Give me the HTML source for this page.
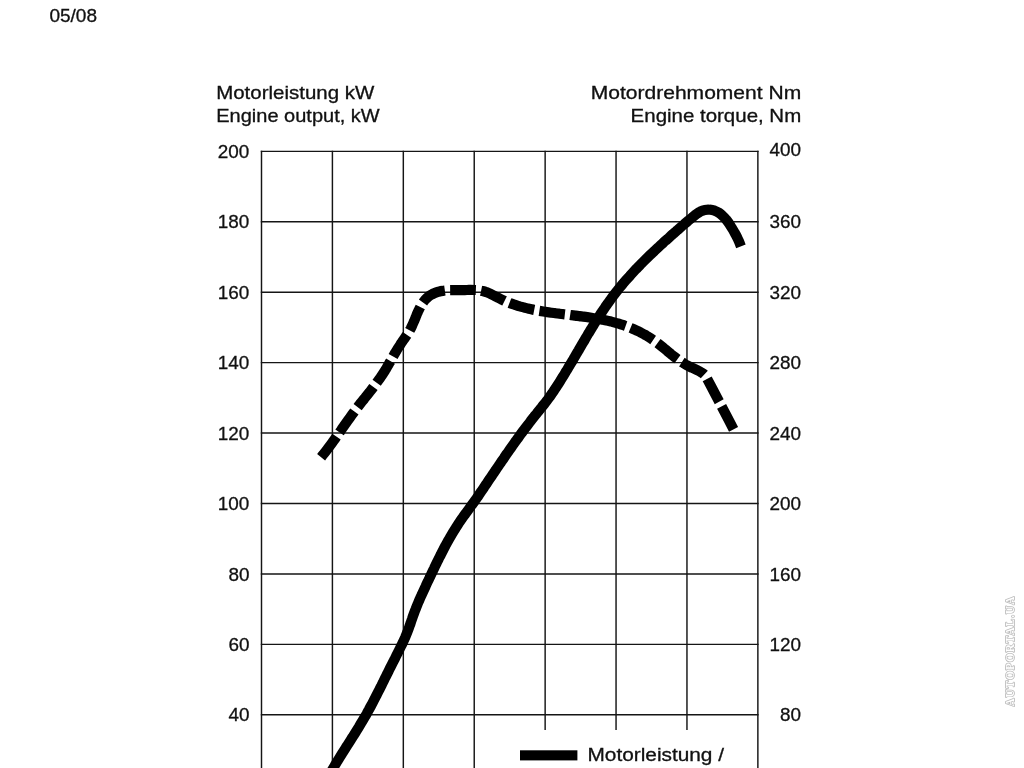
<!DOCTYPE html>
<html lang="de"><head><meta charset="utf-8"><title>Motorleistung / Motordrehmoment</title>
<style>
html,body{margin:0;padding:0;background:#fff;}
body{width:1024px;height:768px;overflow:hidden;position:relative;}
svg{position:absolute;left:0;top:0;display:block;}
text{font-family:"Liberation Sans",Arial,Helvetica,sans-serif;fill:#111;stroke:#111;stroke-width:0.3px;}
.lab text{font-size:18.9px;}
.ttl text{font-size:17.8px;}
.grid line{stroke:#151515;stroke-width:1.45;}
text.wm{font-family:"Liberation Serif","DejaVu Serif",serif;font-weight:bold;font-size:13.4px;fill:#fff;stroke:#bcbcbc;stroke-width:1.7px;paint-order:stroke fill;letter-spacing:1.3px;stroke-linejoin:round;}
</style></head><body>
<svg width="1024" height="768" viewBox="0 0 1024 768">
<rect width="1024" height="768" fill="#fff"/>
<text transform="translate(49.4,22.2) scale(1.035,1)" style="font-size:18.4px">05/08</text>
<g class="ttl">
<text transform="translate(216.2,98.6) scale(1.15,1)">Motorleistung kW</text>
<text transform="translate(216.2,121.7) scale(1.125,1)">Engine output, kW</text>
<text transform="translate(801.2,98.6) scale(1.183,1)" text-anchor="end">Motordrehmoment Nm</text>
<text transform="translate(801.2,121.7) scale(1.15,1)" text-anchor="end">Engine torque, Nm</text>
<text transform="translate(587.5,761) scale(1.17,1)">Motorleistung /</text>
</g>
<g class="grid">
<line x1="261.50" y1="150.65" x2="261.50" y2="768"/>
<line x1="332.41" y1="150.65" x2="332.41" y2="768"/>
<line x1="403.32" y1="150.65" x2="403.32" y2="768"/>
<line x1="474.23" y1="150.65" x2="474.23" y2="768"/>
<line x1="545.14" y1="150.65" x2="545.14" y2="730"/>
<line x1="616.05" y1="150.65" x2="616.05" y2="730"/>
<line x1="686.96" y1="150.65" x2="686.96" y2="730"/>
<line x1="757.87" y1="150.65" x2="757.87" y2="768"/>
<line x1="260.80" y1="151.35" x2="758.57" y2="151.35"/>
<line x1="260.80" y1="221.78" x2="758.57" y2="221.78"/>
<line x1="260.80" y1="292.21" x2="758.57" y2="292.21"/>
<line x1="260.80" y1="362.64" x2="758.57" y2="362.64"/>
<line x1="260.80" y1="433.07" x2="758.57" y2="433.07"/>
<line x1="260.80" y1="503.50" x2="758.57" y2="503.50"/>
<line x1="260.80" y1="573.93" x2="758.57" y2="573.93"/>
<line x1="260.80" y1="644.36" x2="758.57" y2="644.36"/>
<line x1="260.80" y1="714.79" x2="758.57" y2="714.79"/>
</g>
<g class="lab">
<text x="249.4" y="157.9" text-anchor="end">200</text>
<text x="801.0" y="155.8" text-anchor="end">400</text>
<text x="249.4" y="228.4" text-anchor="end">180</text>
<text x="801.0" y="228.4" text-anchor="end">360</text>
<text x="249.4" y="298.8" text-anchor="end">160</text>
<text x="801.0" y="298.8" text-anchor="end">320</text>
<text x="249.4" y="369.2" text-anchor="end">140</text>
<text x="801.0" y="369.2" text-anchor="end">280</text>
<text x="249.4" y="439.7" text-anchor="end">120</text>
<text x="801.0" y="439.7" text-anchor="end">240</text>
<text x="249.4" y="510.1" text-anchor="end">100</text>
<text x="801.0" y="510.1" text-anchor="end">200</text>
<text x="249.4" y="580.5" text-anchor="end">80</text>
<text x="801.0" y="580.5" text-anchor="end">160</text>
<text x="249.4" y="651.0" text-anchor="end">60</text>
<text x="801.0" y="651.0" text-anchor="end">120</text>
<text x="249.4" y="721.4" text-anchor="end">40</text>
<text x="801.0" y="721.4" text-anchor="end">80</text>
</g>
<path d="M321.1,457.3 C321.5,456.8 322.8,455.2 323.6,454.1 C324.4,453.1 325.3,452.0 326.1,451.0 C326.9,449.9 327.7,448.8 328.5,447.7 C329.3,446.7 330.1,445.6 330.9,444.5 C331.7,443.4 332.5,442.3 333.2,441.2 C334.0,440.1 334.8,439.0 335.6,438.0 C336.4,436.9 337.1,435.8 337.9,434.7 C338.7,433.6 339.4,432.5 340.2,431.4 C341.0,430.3 341.7,429.2 342.5,428.1 C343.3,427.0 344.1,425.9 344.8,424.8 C345.6,423.7 346.4,422.6 347.1,421.5 C347.9,420.4 348.7,419.3 349.5,418.2 C350.3,417.1 351.0,416.0 351.8,414.9 C352.6,413.9 353.4,412.8 354.2,411.7 C355.0,410.6 355.8,409.5 356.6,408.5 C357.5,407.4 358.3,406.3 359.1,405.3 C359.9,404.2 360.7,403.2 361.6,402.1 C362.4,401.1 363.2,400.0 364.1,399.0 C364.9,397.9 365.8,396.9 366.6,395.8 C367.4,394.8 368.3,393.7 369.1,392.7 C369.9,391.6 370.8,390.6 371.6,389.5 C372.4,388.4 373.2,387.4 374.0,386.3 C374.8,385.2 375.7,384.2 376.4,383.1 C377.2,382.0 378.0,380.9 378.8,379.8 C379.6,378.8 380.4,377.7 381.1,376.5 C381.9,375.4 382.6,374.3 383.3,373.2 C384.1,372.1 384.8,370.9 385.5,369.8 C386.2,368.6 386.9,367.5 387.5,366.3 C388.2,365.2 388.9,364.0 389.5,362.8 C390.2,361.7 390.9,360.5 391.5,359.3 C392.2,358.1 392.9,357.0 393.5,355.8 C394.2,354.6 394.9,353.4 395.5,352.3 C396.2,351.1 396.9,350.0 397.6,348.8 C398.3,347.7 399.0,346.5 399.8,345.4 C400.5,344.3 401.2,343.2 402.0,342.1 C402.7,341.0 403.5,339.9 404.3,338.8 C405.0,337.7 405.8,336.6 406.5,335.5 C407.3,334.4 408.0,333.2 408.7,332.1 C409.4,331.0 410.0,329.8 410.7,328.6 C411.3,327.4 411.9,326.2 412.4,325.0 C413.0,323.8 413.5,322.5 414.0,321.3 C414.6,320.0 415.1,318.7 415.6,317.5 C416.1,316.2 416.6,315.0 417.1,313.7 C417.7,312.4 418.2,311.2 418.8,310.0 C419.4,308.7 420.0,307.5 420.6,306.3 C421.3,305.1 422.0,303.9 422.7,302.8 C423.5,301.7 424.3,300.6 425.2,299.6 C426.1,298.6 427.0,297.7 428.0,296.9 C429.0,296.1 430.1,295.4 431.3,294.7 C432.4,294.1 433.6,293.5 434.8,293.0 C436.0,292.5 437.3,292.1 438.6,291.7 C439.9,291.4 441.2,291.1 442.5,290.9 C443.9,290.6 445.2,290.4 446.6,290.3 C447.9,290.2 449.2,290.1 450.6,290.1 C451.9,290.1 453.3,290.1 454.6,290.1 C456.0,290.1 457.3,290.1 458.7,290.2 C460.0,290.2 461.4,290.2 462.7,290.2 C464.1,290.1 465.4,290.1 466.8,290.0 C468.1,290.0 469.5,289.9 470.8,289.9 C472.2,289.9 473.5,289.9 474.8,290.0 C476.2,290.0 477.5,290.1 478.8,290.3 C480.1,290.4 481.4,290.7 482.7,291.0 C484.0,291.3 485.2,291.7 486.5,292.2 C487.7,292.6 488.9,293.2 490.1,293.7 C491.3,294.3 492.5,294.9 493.7,295.5 C494.9,296.1 496.1,296.8 497.4,297.4 C498.6,298.0 499.8,298.6 501.0,299.2 C502.2,299.8 503.4,300.3 504.6,300.9 C505.9,301.4 507.1,302.0 508.4,302.5 C509.6,303.0 510.8,303.4 512.1,303.9 C513.4,304.3 514.6,304.8 515.9,305.2 C517.2,305.6 518.4,306.0 519.7,306.4 C521.0,306.7 522.3,307.1 523.6,307.4 C524.9,307.8 526.2,308.1 527.5,308.4 C528.8,308.7 530.1,309.0 531.4,309.3 C532.7,309.6 534.0,309.9 535.3,310.1 C536.6,310.4 538.0,310.6 539.3,310.9 C540.6,311.1 541.9,311.3 543.3,311.5 C544.6,311.7 545.9,312.0 547.2,312.2 C548.6,312.3 549.9,312.5 551.2,312.7 C552.6,312.9 553.9,313.1 555.3,313.2 C556.6,313.4 557.9,313.6 559.3,313.7 C560.6,313.9 562.0,314.1 563.3,314.2 C564.6,314.4 566.0,314.5 567.3,314.7 C568.7,314.8 570.0,315.0 571.3,315.2 C572.7,315.3 574.0,315.5 575.4,315.6 C576.7,315.8 578.0,315.9 579.4,316.1 C580.7,316.3 582.0,316.4 583.4,316.6 C584.7,316.8 586.0,317.0 587.4,317.1 C588.7,317.3 590.0,317.5 591.3,317.7 C592.7,317.9 594.0,318.1 595.3,318.4 C596.6,318.6 598.0,318.8 599.3,319.0 C600.6,319.3 601.9,319.5 603.2,319.8 C604.5,320.1 605.8,320.3 607.1,320.6 C608.4,320.9 609.7,321.2 611.0,321.5 C612.3,321.9 613.6,322.2 614.9,322.6 C616.2,322.9 617.5,323.3 618.8,323.7 C620.1,324.1 621.3,324.5 622.6,324.9 C623.9,325.3 625.2,325.8 626.4,326.2 C627.7,326.7 628.9,327.2 630.2,327.7 C631.4,328.2 632.7,328.7 633.9,329.2 C635.1,329.8 636.3,330.3 637.5,330.9 C638.8,331.5 640.0,332.1 641.1,332.7 C642.3,333.3 643.5,333.9 644.7,334.6 C645.8,335.3 647.0,335.9 648.1,336.6 C649.3,337.3 650.4,338.1 651.5,338.8 C652.6,339.6 653.7,340.3 654.8,341.1 C655.9,341.9 657.0,342.7 658.1,343.5 C659.1,344.3 660.2,345.2 661.2,346.0 C662.3,346.9 663.3,347.7 664.4,348.6 C665.4,349.4 666.4,350.3 667.5,351.2 C668.5,352.0 669.6,352.9 670.6,353.7 C671.6,354.6 672.7,355.4 673.7,356.2 C674.8,357.1 675.9,357.9 676.9,358.7 C678.0,359.5 679.1,360.3 680.2,361.0 C681.3,361.8 682.4,362.5 683.6,363.2 C684.7,363.9 685.8,364.6 687.0,365.3 C688.2,365.9 689.4,366.5 690.6,367.1 C691.8,367.7 693.1,368.2 694.3,368.8 C695.5,369.4 696.7,369.9 697.9,370.5 C699.1,371.1 700.3,371.8 701.4,372.5 C702.6,373.2 703.7,373.8 704.7,374.9 C705.6,376.0 705.8,376.3 707.3,379.1 C708.8,381.9 711.7,387.5 713.9,391.7 C716.1,395.9 718.3,400.1 720.5,404.3 C722.7,408.5 724.9,412.7 727.1,416.9 C729.3,421.1 732.6,427.5 733.7,429.6" fill="none" stroke="#000" stroke-width="10.2" stroke-dasharray="25.7 5.3"/>
<path d="M329.9,774.0 C330.3,773.3 331.5,771.1 332.4,769.6 C333.2,768.2 334.1,766.7 334.9,765.3 C335.8,763.9 336.6,762.4 337.5,761.0 C338.4,759.6 339.3,758.1 340.1,756.7 C341.0,755.3 341.9,753.9 342.8,752.4 C343.7,751.0 344.6,749.6 345.5,748.2 C346.4,746.8 347.3,745.3 348.2,743.9 C349.1,742.5 350.0,741.1 350.9,739.7 C351.8,738.3 352.7,736.8 353.6,735.4 C354.5,734.0 355.4,732.6 356.3,731.1 C357.1,729.7 358.0,728.3 358.9,726.9 C359.8,725.4 360.6,724.0 361.5,722.6 C362.4,721.1 363.2,719.7 364.1,718.2 C364.9,716.8 365.7,715.3 366.6,713.9 C367.4,712.4 368.2,710.9 369.0,709.5 C369.8,708.0 370.6,706.5 371.4,705.1 C372.2,703.6 373.0,702.1 373.7,700.6 C374.5,699.1 375.3,697.6 376.0,696.1 C376.8,694.6 377.6,693.2 378.3,691.7 C379.1,690.2 379.8,688.7 380.6,687.2 C381.3,685.7 382.1,684.2 382.8,682.7 C383.5,681.2 384.3,679.7 385.0,678.2 C385.8,676.7 386.5,675.2 387.3,673.7 C388.0,672.1 388.8,670.6 389.5,669.1 C390.3,667.6 391.0,666.2 391.8,664.7 C392.5,663.2 393.3,661.7 394.1,660.2 C394.8,658.7 395.6,657.2 396.3,655.7 C397.1,654.2 397.9,652.7 398.6,651.2 C399.4,649.7 400.1,648.2 400.8,646.7 C401.6,645.2 402.3,643.7 403.0,642.1 C403.7,640.6 404.4,639.1 405.1,637.6 C405.7,636.0 406.4,634.5 407.0,632.9 C407.6,631.4 408.2,629.8 408.8,628.2 C409.4,626.6 409.9,625.0 410.5,623.5 C411.0,621.9 411.5,620.3 412.1,618.7 C412.6,617.1 413.2,615.5 413.8,613.9 C414.4,612.4 414.9,610.8 415.6,609.2 C416.2,607.7 416.8,606.1 417.4,604.6 C418.1,603.0 418.7,601.5 419.4,600.0 C420.0,598.4 420.7,596.9 421.4,595.4 C422.1,593.8 422.8,592.3 423.5,590.8 C424.2,589.3 424.9,587.8 425.6,586.3 C426.3,584.7 427.0,583.2 427.7,581.7 C428.4,580.2 429.2,578.7 429.9,577.2 C430.6,575.6 431.3,574.1 432.0,572.6 C432.7,571.1 433.5,569.6 434.2,568.1 C434.9,566.5 435.7,565.0 436.4,563.5 C437.1,562.0 437.9,560.5 438.6,559.0 C439.4,557.5 440.1,556.0 440.9,554.5 C441.6,553.0 442.4,551.5 443.2,550.0 C443.9,548.5 444.7,547.0 445.5,545.5 C446.3,544.1 447.1,542.6 447.9,541.1 C448.7,539.7 449.6,538.2 450.4,536.8 C451.2,535.3 452.1,533.9 453.0,532.4 C453.8,531.0 454.7,529.6 455.6,528.2 C456.5,526.7 457.4,525.3 458.3,523.9 C459.2,522.5 460.2,521.2 461.1,519.8 C462.1,518.4 463.1,517.0 464.0,515.7 C465.0,514.3 466.0,513.0 467.0,511.6 C468.0,510.3 469.0,508.9 469.9,507.6 C470.9,506.2 471.9,504.9 472.9,503.5 C473.9,502.1 474.8,500.8 475.8,499.4 C476.8,498.0 477.7,496.6 478.7,495.3 C479.6,493.9 480.6,492.5 481.5,491.1 C482.5,489.7 483.4,488.3 484.3,486.9 C485.3,485.5 486.2,484.1 487.1,482.8 C488.1,481.4 489.0,480.0 489.9,478.6 C490.9,477.2 491.8,475.8 492.7,474.4 C493.7,473.0 494.6,471.6 495.6,470.2 C496.5,468.8 497.4,467.5 498.4,466.1 C499.3,464.7 500.3,463.3 501.2,461.9 C502.2,460.5 503.1,459.1 504.1,457.8 C505.0,456.4 506.0,455.0 506.9,453.6 C507.9,452.3 508.8,450.9 509.8,449.5 C510.8,448.1 511.7,446.8 512.7,445.4 C513.7,444.0 514.6,442.7 515.6,441.3 C516.6,439.9 517.6,438.6 518.6,437.2 C519.5,435.9 520.5,434.5 521.5,433.2 C522.5,431.8 523.5,430.5 524.5,429.1 C525.5,427.8 526.5,426.5 527.6,425.1 C528.6,423.8 529.6,422.5 530.6,421.1 C531.7,419.8 532.7,418.5 533.7,417.2 C534.8,415.9 535.8,414.5 536.9,413.2 C537.9,411.9 539.0,410.6 540.0,409.3 C541.1,408.0 542.1,406.7 543.2,405.4 C544.2,404.1 545.3,402.8 546.3,401.4 C547.3,400.1 548.3,398.8 549.3,397.4 C550.2,396.1 551.2,394.7 552.1,393.3 C553.1,391.9 554.0,390.5 554.9,389.2 C555.9,387.8 556.8,386.4 557.7,384.9 C558.6,383.5 559.5,382.1 560.4,380.7 C561.3,379.3 562.1,377.9 563.0,376.4 C563.9,375.0 564.8,373.6 565.6,372.1 C566.5,370.7 567.4,369.3 568.2,367.8 C569.1,366.4 569.9,364.9 570.8,363.5 C571.7,362.1 572.5,360.6 573.4,359.2 C574.2,357.7 575.1,356.3 575.9,354.8 C576.8,353.4 577.6,351.9 578.5,350.5 C579.3,349.0 580.1,347.6 581.0,346.1 C581.8,344.7 582.7,343.2 583.6,341.8 C584.4,340.3 585.3,338.9 586.1,337.4 C587.0,336.0 587.8,334.5 588.7,333.1 C589.6,331.6 590.4,330.2 591.3,328.8 C592.2,327.3 593.1,325.9 593.9,324.5 C594.8,323.1 595.7,321.6 596.6,320.2 C597.5,318.8 598.4,317.4 599.3,316.0 C600.2,314.6 601.1,313.2 602.1,311.8 C603.0,310.4 603.9,309.0 604.9,307.6 C605.8,306.2 606.8,304.9 607.7,303.5 C608.7,302.1 609.7,300.8 610.7,299.4 C611.6,298.1 612.6,296.7 613.6,295.4 C614.7,294.0 615.7,292.7 616.7,291.4 C617.7,290.1 618.8,288.8 619.8,287.5 C620.9,286.2 622.0,284.9 623.0,283.6 C624.1,282.4 625.2,281.1 626.3,279.8 C627.4,278.6 628.5,277.3 629.7,276.1 C630.8,274.8 631.9,273.6 633.0,272.4 C634.2,271.1 635.3,269.9 636.5,268.7 C637.6,267.5 638.8,266.3 640.0,265.1 C641.2,263.9 642.3,262.7 643.5,261.5 C644.7,260.3 645.9,259.1 647.1,257.9 C648.3,256.8 649.5,255.6 650.7,254.4 C651.9,253.3 653.2,252.1 654.4,251.0 C655.6,249.8 656.8,248.7 658.1,247.5 C659.3,246.4 660.5,245.2 661.8,244.1 C663.0,243.0 664.2,241.8 665.5,240.7 C666.7,239.6 668.0,238.5 669.2,237.4 C670.5,236.2 671.7,235.1 673.0,234.0 C674.2,232.9 675.5,231.8 676.7,230.7 C678.0,229.6 679.2,228.5 680.5,227.4 C681.7,226.3 683.0,225.2 684.3,224.1 C685.5,223.0 686.8,221.9 688.1,220.9 C689.4,219.8 690.7,218.7 692.0,217.6 C693.3,216.6 694.7,215.4 696.0,214.4 C697.4,213.4 698.8,212.3 700.3,211.6 C701.8,210.8 703.3,210.2 704.9,209.9 C706.5,209.6 708.3,209.5 709.9,209.7 C711.5,209.8 713.2,210.2 714.7,210.7 C716.3,211.3 717.7,212.0 719.1,212.9 C720.5,213.8 721.7,214.9 722.9,216.1 C724.2,217.2 725.3,218.5 726.4,219.9 C727.5,221.2 728.5,222.7 729.4,224.1 C730.4,225.6 731.3,227.1 732.2,228.5 C733.1,230.0 733.9,231.4 734.7,232.9 C735.5,234.3 736.3,235.7 737.0,237.1 C737.7,238.6 738.4,240.0 739.1,241.6 C739.7,243.1 740.6,245.6 740.9,246.4" fill="none" stroke="#000" stroke-width="10.2"/>
<rect x="520" y="750.3" width="57.4" height="10.1" fill="#000"/>
<text class="wm" transform="translate(1014.1,706.6) rotate(-90) scale(0.84,1)">AUTOPORTAL.UA</text>
</svg>
</body></html>
